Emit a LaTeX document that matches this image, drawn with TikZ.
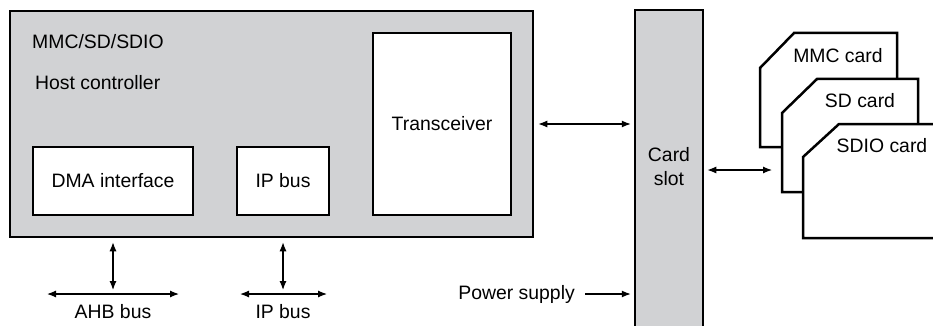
\documentclass[tikz,border=0pt]{standalone}
\usepackage{fontspec}
\setmainfont{Liberation Sans}
\usetikzlibrary{arrows.meta}
\definecolor{hostgray}{RGB}{209,210,212}
\tikzset{
  blk/.style={draw,line width=2.5pt,inner sep=0pt,align=center},
  lbl/.style={inner sep=0pt,text height=14pt,text depth=4pt},
  bus/.style={<->,line width=1.2pt},
  card/.style={draw,fill=white,line width=2.5pt,line join=miter}
}
\begin{document}
\begin{tikzpicture}[x=1pt,y=-1pt,>={Latex[length=9pt,width=7pt]},
    font=\fontsize{19.4}{24}\selectfont]
    \useasboundingbox (0,0) rectangle (933,326);
    \clip (0,0) rectangle (933,326);
    % host controller
    \node[blk,fill=hostgray,minimum width=523,minimum height=226] (host) at (271.5,124) {};
    \node[lbl,anchor=base west] (hosttitle) at (32,49) {MMC/SD/SDIO};
    \node[lbl,anchor=base west] (hostsub) at (35,90) {Host controller};
    \node[blk,fill=white,minimum width=138,minimum height=182] (trans) at (442,124) {Transceiver};
    \node[blk,fill=white,minimum width=160,minimum height=68] (dma) at (113,181) {DMA interface};
    \node[blk,fill=white,minimum width=92,minimum height=68] (ipb) at (283,181) {IP bus};
    % card slot
    \node[blk,fill=hostgray,minimum width=68,minimum height=340] (slot) at (669,180) {};
    \node[align=center,inner sep=0pt] (slotlbl) at (669,167) {Card\\slot};
    % cards
    \draw[card] (760,147) -- (760,68) -- (794,33) -- (897,33) -- (897,147) -- cycle;
    \draw[card] (782,192) -- (782,113) -- (817,79) -- (918,79) -- (918,192) -- cycle;
    \draw[card] (803,238) -- (803,157) -- (839,124) -- (950,124) -- (950,238) -- cycle;
    \node[lbl] (mmc) at (838,58) {MMC card};
    \node[lbl] (sd) at (860,103) {SD card};
    \node[lbl] (sdio) at (882,147) {SDIO card};
    \coordinate (cards) at (772,170);
    % buses
    \coordinate (ahbL) at (47,294);
    \coordinate (ahbR) at (179,294);
    \coordinate (ipL) at (240,294);
    \coordinate (ipR) at (327,294);
    \draw[bus] (ahbL) -- (ahbR);
    \draw[bus] (ipL) -- (ipR);
    \node[lbl,anchor=base] (ahblbl) at (113,318) {AHB bus};
    \node[lbl,anchor=base] (iplbl) at (283,318) {IP bus};
    \draw[bus,shorten <=4pt,shorten >=4pt] (dma |- host.south) -- (dma |- ahbL);
    \draw[bus,shorten <=4pt,shorten >=4pt] (ipb |- host.south) -- (ipb |- ipL);
    \draw[bus,shorten <=4pt,shorten >=3pt] (host.east |- trans) -- (slot.west |- trans);
    \draw[bus,shorten <=3pt] (slot.east |- cards) -- (cards);
    % power
    \node[lbl,anchor=east] (pwr) at (575,294) {Power supply};
    \draw[->,line width=1.2pt,shorten <=10pt,shorten >=3pt] (pwr.east) -- (slot.west |- pwr.east);
\end{tikzpicture}
\end{document}
